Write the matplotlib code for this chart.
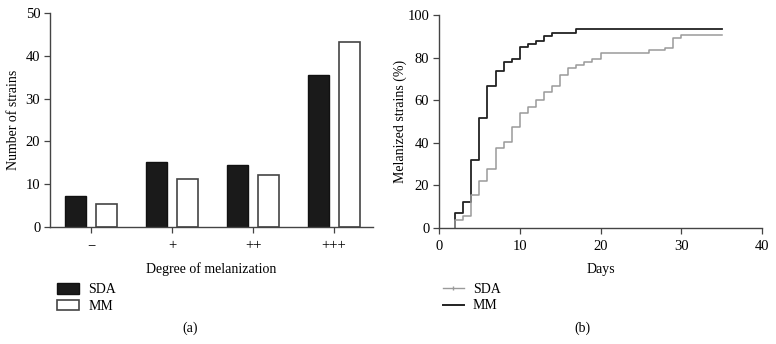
import matplotlib
matplotlib.use("Agg")
import matplotlib.pyplot as plt
from matplotlib.patches import Patch
from matplotlib.lines import Line2D

plt.rcParams['font.family'] = ['Liberation Serif', 'DejaVu Serif']
plt.rcParams['font.size'] = 10

# ---- Panel (a) data ----
categories = ["\u2212", "+", "++", "+++"]
sda_counts = [7.3, 15.2, 14.4, 35.4]
mm_counts = [5.3, 11.1, 12.2, 43.2]

# ---- Panel (b) data ----
mm_days = [2, 3, 4, 5, 6, 7, 8, 9, 10, 11, 12, 13, 14, 17, 35]
mm_pct = [7.1, 12.3, 32.0, 51.5, 66.5, 73.9, 78.0, 79.4, 84.8, 86.3, 87.8, 90.3, 91.7, 93.3, 93.3]
sda_days = [2, 3, 4, 5, 6, 7, 8, 9, 10, 11, 12, 13, 14, 15, 16, 17, 18, 19, 20, 26, 28, 29, 30, 35]
sda_pct = [3.8, 5.4, 15.3, 22.3, 27.6, 37.5, 40.2, 47.3, 54.2, 56.7, 60.2, 64.0, 66.7, 72.0,
           75.0, 76.5, 77.9, 79.3, 82.2, 83.4, 84.7, 89.0, 90.5, 90.5]

W, H = 776, 344
fig = plt.figure(figsize=(W / 100, H / 100), dpi=100)

spine_col = "#444444"

def style(ax):
    for s in ["top", "right"]:
        ax.spines[s].set_visible(False)
    for s in ["left", "bottom"]:
        ax.spines[s].set_color(spine_col)
        ax.spines[s].set_linewidth(1.0)
    ax.tick_params(direction="out", length=4, width=0.9, color=spine_col, labelsize=10.5, pad=3)

# Panel (a)
ax1 = fig.add_axes([50 / W, 1 - 227 / H, 323 / W, 214 / H])
style(ax1)
x = list(range(len(categories)))
bw = 0.26
off = 0.19
ax1.bar([i - off for i in x], sda_counts, width=bw, color="#1a1a1a", edgecolor="#111111", linewidth=1.0)
ax1.bar([i + off for i in x], mm_counts, width=bw, color="white", edgecolor="#444444", linewidth=1.2)
ax1.set_xlim(-0.506, 3.48)
ax1.set_ylim(0, 50)
ax1.set_yticks([0, 10, 20, 30, 40, 50])
ax1.set_xticks(x)
ax1.set_xticklabels(categories)
ax1.tick_params(axis="x", pad=5)
ax1.set_xlabel("Degree of melanization", labelpad=7)
ax1.set_ylabel("Number of strains", labelpad=4)

leg1 = fig.legend(
    handles=[Patch(facecolor="#1a1a1a", edgecolor="#111111"),
             Patch(facecolor="white", edgecolor="#444444", linewidth=1.2)],
    labels=["SDA", "MM"], loc="upper left", bbox_to_anchor=(50 / W, 1 - 276 / H),
    frameon=False, borderpad=0, handlelength=1.6, handleheight=0.8,
    handletextpad=0.65, labelspacing=0.25, fontsize=10)

# Panel (b)
ax2 = fig.add_axes([439 / W, 1 - 228 / H, 323 / W, 213 / H])
style(ax2)
ax2.step([mm_days[0]] + mm_days, [0] + mm_pct, where="post", color="#222222", linewidth=1.3)
ax2.step([sda_days[0]] + sda_days, [0] + sda_pct, where="post", color="#9a9a9a", linewidth=1.1)
ax2.set_xlim(0, 40)
ax2.set_ylim(0, 100)
ax2.set_xticks([0, 10, 20, 30, 40])
ax2.set_yticks([0, 20, 40, 60, 80, 100])
ax2.tick_params(axis="x", pad=5)
ax2.set_xlabel("Days", labelpad=7)
ax2.set_ylabel("Melanized strains (%)", labelpad=0)

leg2 = fig.legend(
    handles=[Line2D([0], [0], color="#9a9a9a", linewidth=1.0, marker="|", markersize=3),
             Line2D([0], [0], color="#222222", linewidth=1.4)],
    labels=["SDA", "MM"], loc="upper left", bbox_to_anchor=(436 / W, 1 - 276 / H),
    frameon=False, borderpad=0, handlelength=1.5,
    handletextpad=0.65, labelspacing=0.25, fontsize=10)

fig.text(190 / W, 1 - 328 / H, "(a)", ha="center", va="center", fontsize=10)
fig.text(582 / W, 1 - 328 / H, "(b)", ha="center", va="center", fontsize=10)

fig.savefig("out.png", dpi=100, facecolor="white")
